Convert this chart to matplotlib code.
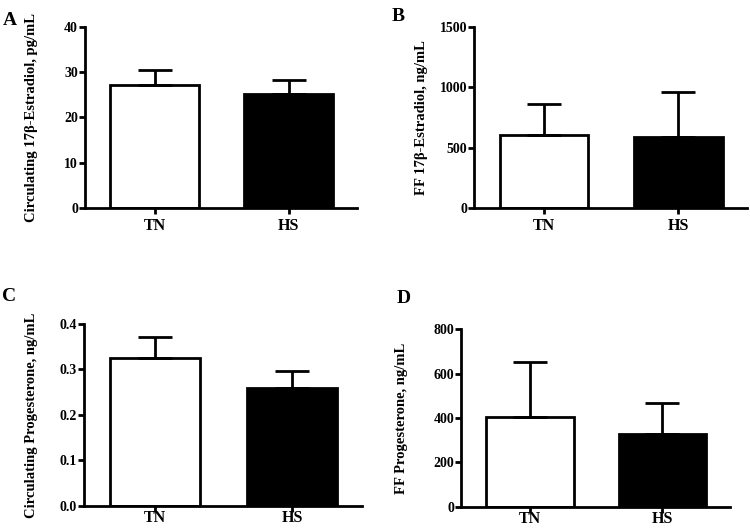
import matplotlib
matplotlib.use("Agg")
import matplotlib.pyplot as plt

groups = ["TN", "HS"]

# panel values (mean, upper error)
e2_circ = [27.2, 25.2]
e2_circ_err = [3.4, 3.0]
e2_ff = [607, 586]
e2_ff_err = [252, 375]
p4_circ = [0.325, 0.260]
p4_circ_err = [0.046, 0.036]
p4_ff = [403, 326]
p4_ff_err = [248, 142]

panels = [
    ("A", e2_circ, e2_circ_err, "Circulating 17\u03b2-Estradiol, pg/mL", (0, 40), [0, 10, 20, 30, 40], "{:.0f}"),
    ("B", e2_ff, e2_ff_err, "FF 17\u03b2-Estradiol, ng/mL", (0, 1500), [0, 500, 1000, 1500], "{:.0f}"),
    ("C", p4_circ, p4_circ_err, "Circulating Progesterone, ng/mL", (0, 0.4), [0, 0.1, 0.2, 0.3, 0.4], "{:.1f}"),
    ("D", p4_ff, p4_ff_err, "FF Progesterone, ng/mL", (0, 800), [0, 200, 400, 600, 800], "{:.0f}"),
]

# axes boxes in figure fraction
boxes = [
    [0.1133, 0.6068, 0.3627, 0.3422],
    [0.632, 0.6068, 0.364, 0.3422],
    [0.112, 0.044, 0.3707, 0.3435],
    [0.6147, 0.0422, 0.3586, 0.3353],
]
letter_pos = [(0.004, 0.978), (0.522, 0.984), (0.003, 0.455), (0.529, 0.452)]
label_x = [-0.173, -0.168, -0.165, -0.197]
xpad = [3, 3, -1, -1]

plt.rcParams.update({"font.family": "Liberation Serif", "font.weight": "bold"})
LW = 2.0

fig = plt.figure(figsize=(7.5, 5.29), dpi=100)
for (letter, vals, errs, ylab, ylim, yt, fmt), box, lp, lx, xp in zip(panels, boxes, letter_pos, label_x, xpad):
    ax = fig.add_axes(box)
    x = [0, 1]
    ax.bar(x, vals, width=0.66, color=["white", "black"], edgecolor="black", linewidth=LW, zorder=2)
    ax.errorbar(x, vals, yerr=[[0, 0], errs], fmt="none", ecolor="black",
                elinewidth=LW, capsize=12, capthick=LW, zorder=3)
    ax.set_xlim(-0.52, 1.51)
    ax.set_ylim(*ylim)
    ax.set_yticks(yt)
    ax.set_yticklabels([fmt.format(v) for v in yt], fontsize=10, fontweight="bold")
    ax.set_xticks(x)
    ax.set_xticklabels(groups, fontsize=11.5, fontweight="bold")
    ax.tick_params(axis="y", length=4, width=LW, pad=1)
    ax.tick_params(axis="x", length=4, width=LW, pad=xp)
    ax.spines[["top", "right"]].set_visible(False)
    for s in ("left", "bottom"):
        ax.spines[s].set_linewidth(LW)
    ax.set_ylabel(ylab, fontsize=10.5, fontweight="bold")
    ax.yaxis.set_label_coords(lx, 0.5)
    fig.text(lp[0], lp[1], letter, fontsize=14, fontweight="bold", va="top", ha="left")

fig.savefig("out.png", dpi=100)
